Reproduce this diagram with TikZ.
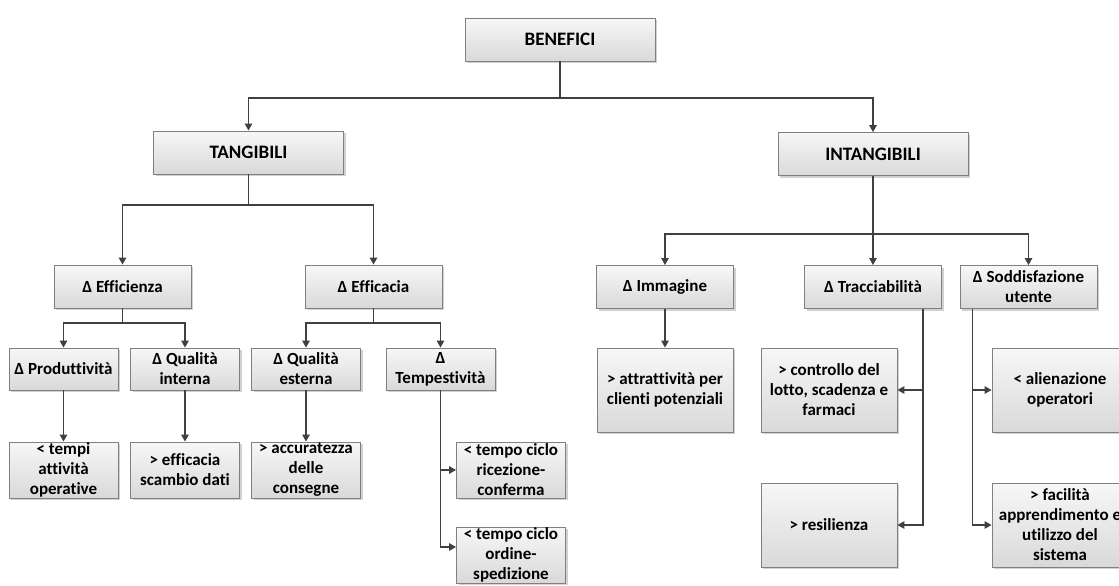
\documentclass[tikz,border=0pt]{standalone}
\usepackage{fontspec}
\setmainfont{Carlito}[Ligatures=NoCommon]
\usetikzlibrary{arrows.meta,shadows}
\definecolor{linecol}{HTML}{404040}
\definecolor{boxline}{HTML}{808080}
\definecolor{boxtop}{HTML}{F7F7F7}
\definecolor{boxbot}{HTML}{D9D9D9}
\tikzset{
  box/.style={draw=boxline, line width=0.9pt, top color=boxtop, bottom color=boxbot,
    inner sep=0pt, align=center, font=\fontsize{17}{20}\selectfont\bfseries,
    drop shadow={shadow xshift=2pt, shadow yshift=-2pt, fill=black, opacity=0.18}},
  wide/.style={box, minimum width=190pt, minimum height=43pt,
    font=\fontsize{19}{22}\selectfont\bfseries},
  mid/.style={box, minimum width=137pt, minimum height=43pt},
  small/.style={box, minimum width=109pt, minimum height=42pt},
  leaf/.style={box, minimum width=109pt, minimum height=56pt},
  big/.style={box, minimum width=136pt, minimum height=84pt},
  arr/.style={draw=linecol, line width=1.3pt, -{Triangle[length=7pt,width=7.5pt]}},
}
\begin{document}
\begin{tikzpicture}[x=1pt,y=-1pt]
\useasboundingbox (0,0) rectangle (1119,586);
\fill[white] (0,0) rectangle (1119,586);
\clip (0,0) rectangle (1119,586);

% top levels
\node[wide] (ben) at (560,39.5) {BENEFICI};
\node[wide] (tan) at (248.5,152.5) {TANGIBILI};
\node[wide] (int) at (873,154) {INTANGIBILI};

% second level
\node[mid] (eff) at (122.5,286.5) {Δ Efficienza};
\node[mid] (efc) at (373.5,286.5) {Δ Efficacia};
\node[mid] (imm) at (665,287) {Δ Immagine};
\node[mid] (tra) at (873,287) {Δ Tracciabilità};
\node[mid] (sod) at (1028.5,287) {Δ Soddisfazione\\utente};

% third level, tangible side
\node[small] (pro) at (63.5,369) {Δ Produttività};
\node[small] (qin) at (185,369) {Δ Qualità\\interna};
\node[small] (qes) at (306,369) {Δ Qualità\\esterna};
\node[small] (tem) at (440.5,369) {Δ\\Tempestività};

\node[leaf] (tmp) at (63.5,470) {< tempi\\attività\\operative};
\node[leaf] (efs) at (185,470) {> efficacia\\scambio dati};
\node[leaf] (acc) at (306,470) {> accuratezza\\delle\\consegne};
\node[leaf] (ric) at (511,470) {< tempo ciclo\\ricezione-\\conferma};
\node[leaf] (ord) at (511,555) {< tempo ciclo\\ordine-\\spedizione};

% intangible side
\node[big] (att) at (665,390) {> attrattività per\\clienti potenziali};
\node[big] (con) at (829,390) {> controllo del\\lotto, scadenza e\\farmaci};
\node[big] (res) at (829,525) {> resilienza};
\node[big] (ali) at (1060,390) {< alienazione\\operatori};
\node[big] (fac) at (1060,525) {> facilità\\apprendimento e\\utilizzo del\\sistema};

% junction points of the connectors
\coordinate (j0) at (560,98);
\coordinate (j1) at (248.5,205);
\coordinate (j2) at (873,234);
\coordinate (j3) at (122.5,323);
\coordinate (j4) at (373.5,323);
\coordinate (ta) at ([xshift=-19pt]tra.south east);
\coordinate (sa) at ([xshift=13pt]sod.south west);

\draw[arr] (ben.south) -- (j0) -| (tan.north);
\draw[arr] (j0) -| (int.north);

\draw[arr] (tan.south) -- (j1) -| (eff.north);
\draw[arr] (j1) -| (efc.north);

\draw[arr] (int.south) -- (j2) -| (imm.north);
\draw[arr] (j2) -- (tra.north);
\draw[arr] (j2) -| (sod.north);

\draw[arr] (eff.south) -- (j3) -| (pro.north);
\draw[arr] (j3) -| (qin.north);
\draw[arr] (efc.south) -- (j4) -| (qes.north);
\draw[arr] (j4) -| (tem.north);

\draw[arr] (pro) -- (tmp);
\draw[arr] (qin) -- (efs);
\draw[arr] (qes) -- (acc);
\draw[arr] (tem.south) |- (ric.west);
\draw[arr] (tem.south) |- ([yshift=8pt]ord.west);

\draw[arr] (imm) -- (att);
\draw[arr] (ta) |- (con.east);
\draw[arr] (ta) |- (res.east);
\draw[arr] (sa) |- (ali.west);
\draw[arr] (sa) |- (fac.west);
\end{tikzpicture}
\end{document}
